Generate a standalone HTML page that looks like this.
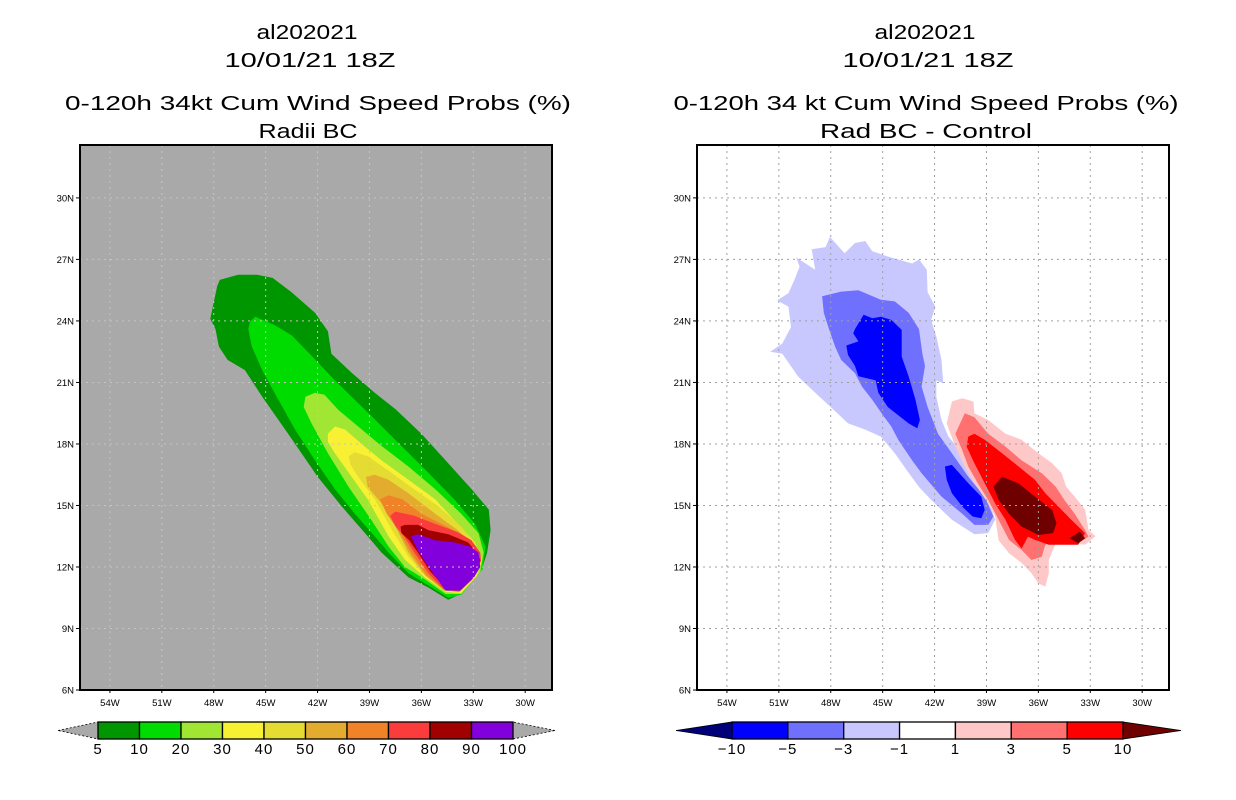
<!DOCTYPE html>
<html><head><meta charset="utf-8">
<style>
html,body{margin:0;padding:0;background:#fff;width:1236px;height:800px;overflow:hidden}
svg{display:block}
text{font-family:"Liberation Sans",sans-serif;fill:#000}
.title{font-size:20px}
.tick{font-size:9.5px}
.cbl{font-size:15px;letter-spacing:1px}
</style></head>
<body>
<svg id="fig" width="1236" height="800" viewBox="0 0 1236 800" xmlns="http://www.w3.org/2000/svg">
<g>
<text class="title" x="307" y="39" text-anchor="middle" textLength="101" lengthAdjust="spacingAndGlyphs">al202021</text>
<text class="title" x="310" y="67" text-anchor="middle" textLength="171" lengthAdjust="spacingAndGlyphs">10/01/21 18Z</text>
<text class="title" x="318" y="110" text-anchor="middle" textLength="506" lengthAdjust="spacingAndGlyphs">0-120h 34kt Cum Wind Speed Probs (%)</text>
<text class="title" x="308" y="138" text-anchor="middle" textLength="99" lengthAdjust="spacingAndGlyphs">Radii BC</text>
</g>
<g>
<text class="title" x="925" y="39" text-anchor="middle" textLength="101" lengthAdjust="spacingAndGlyphs">al202021</text>
<text class="title" x="928" y="67" text-anchor="middle" textLength="171" lengthAdjust="spacingAndGlyphs">10/01/21 18Z</text>
<text class="title" x="926" y="110" text-anchor="middle" textLength="505" lengthAdjust="spacingAndGlyphs">0-120h 34 kt Cum Wind Speed Probs (%)</text>
<text class="title" x="926" y="138" text-anchor="middle" textLength="212" lengthAdjust="spacingAndGlyphs">Rad BC - Control</text>
</g>
<g id="left"></g>
<g id="right"></g>
<g id="cbars"></g>
</svg>
<script>
// ---- axis data ----
const lonTicks = [54,51,48,45,42,39,36,33,30];
const latTicks = [6,9,12,15,18,21,24,27,30];
const latLabels = ["6N","9N","12N","15N","18N","21N","24N","27N","30N"];
// ---- left panel contour levels (%), polygons as [lonW, lat] ----
const probColors = ["#009600","#00dc00","#a0e632","#f8f032","#e4dc32","#e4ac2e","#f08228","#fa3c3c","#a00000","#8200dc"];
const probLevels = ["5","10","20","30","40","50","60","70","80","90","100"];
const p5 = [[47.65,26.0],[46.6,26.25],[45.5,26.25],[44.6,26.1],[43.5,25.4],[42.15,24.4],[41.4,23.5],[41.2,22.4],[40.0,21.45],[38.7,20.5],[37.5,19.7],[36.0,18.5],[34.45,17.06],[33.1,15.8],[32.1,14.8],[32.0,13.8],[32.2,12.7],[32.5,11.9],[33.7,10.7],[34.45,10.4],[35.6,11.0],[36.75,11.5],[38.3,12.7],[39.1,13.5],[40.6,14.95],[42.0,16.4],[43.7,18.5],[45.2,20.3],[46.2,21.6],[47.2,22.1],[47.7,22.75],[47.9,23.6],[48.2,24.1],[48.0,24.9],[47.8,25.7]];
const p10 = [[45.9,23.97],[45.6,24.2],[44.5,23.8],[43.5,23.3],[42.35,22.3],[41.0,21.1],[39.85,20.15],[38.7,19.2],[37.15,17.9],[35.6,16.6],[34.1,15.3],[32.9,14.1],[32.3,13.0],[32.45,11.9],[33.7,10.65],[34.45,10.5],[35.6,11.1],[36.75,11.7],[37.9,12.7],[38.7,13.5],[39.85,14.6],[41.0,15.8],[42.15,17.2],[43.3,18.7],[44.3,20.2],[45.2,21.6],[45.8,22.75],[46.0,23.6]];
const p20 = [[42.7,20.3],[42.15,20.5],[41.6,20.4],[40.8,19.66],[39.65,18.85],[38.3,17.9],[36.75,16.9],[35.2,15.8],[33.7,14.6],[32.7,13.65],[32.4,12.7],[32.6,11.75],[33.7,10.68],[34.6,10.68],[35.8,11.4],[36.95,12.0],[37.9,13.0],[38.9,14.3],[40.2,15.9],[41.4,17.55],[42.35,19.0],[42.8,19.8]];
const p30 = [[41.4,18.5],[41.0,18.85],[40.4,18.7],[39.45,18.0],[38.3,17.2],[36.75,16.25],[35.2,15.3],[33.9,14.1],[32.9,13.2],[32.5,12.35],[32.8,11.55],[33.7,10.72],[34.6,10.78],[35.8,11.5],[36.95,12.35],[37.9,13.5],[39.1,15.3],[40.2,16.6],[41.0,17.55],[41.4,18.1]];
const p40 = [[40.2,17.4],[39.85,17.6],[39.1,17.4],[37.9,16.7],[36.6,15.9],[35.0,14.95],[33.7,13.97],[32.8,13.0],[32.55,12.3],[32.95,11.45],[33.8,10.76],[34.7,10.84],[35.8,11.6],[36.75,12.5],[37.7,13.8],[38.7,15.3],[39.65,16.4],[40.1,17.0]];
const p50 = [[39.2,16.4],[38.7,16.5],[37.9,16.25],[36.75,15.6],[35.2,14.6],[33.9,13.8],[32.9,13.0],[32.6,12.3],[33.05,11.42],[33.85,10.78],[34.7,10.86],[35.8,11.6],[36.75,12.7],[37.5,13.97],[38.3,15.1],[39.1,15.9]];
const p60 = [[38.4,15.3],[37.9,15.5],[37.1,15.3],[36.0,14.6],[34.6,14.0],[33.5,13.5],[32.8,12.9],[32.6,12.3],[33.0,11.44],[33.8,10.8],[34.7,10.88],[35.7,11.6],[36.6,12.7],[37.35,13.8],[38.0,14.6]];
const p70 = [[37.8,14.5],[37.5,14.7],[36.4,14.5],[35.2,14.1],[33.9,13.7],[33.1,13.3],[32.6,12.7],[32.55,12.3],[33.0,11.45],[33.8,10.82],[34.7,10.9],[35.6,11.7],[36.4,12.7],[37.0,13.5],[37.5,14.0]];
const p80 = [[37.2,13.97],[36.95,14.05],[36.2,14.05],[35.6,13.8],[34.45,13.6],[33.3,13.2],[32.7,12.6],[32.6,12.3],[33.05,11.48],[33.8,10.9],[34.6,10.96],[35.5,11.8],[36.2,12.7],[36.7,13.3],[37.15,13.65]];
const p90 = [[36.6,13.5],[36.2,13.6],[35.2,13.3],[34.1,13.2],[33.2,13.0],[32.7,12.7],[32.6,12.0],[32.95,11.5],[33.75,10.85],[34.6,10.85],[35.5,11.9],[36.2,12.8]];
// ---- right panel difference contours ----
const diffColors = ["#000078","#0000ff","#7070ff","#c8c8ff","#ffffff","#ffc8c8","#ff7070","#ff0000","#6e0000"];
const diffLevels = ["-10","-5","-3","-1","1","3","5","10"];
const dm1 = [[48.05,28.1],[47.2,27.3],[46.6,27.8],[46.0,27.9],[45.6,27.4],[44.7,27.14],[43.3,26.8],[42.9,27.0],[42.45,26.5],[42.4,25.4],[41.95,24.7],[42.2,24.05],[41.9,23.24],[41.6,22.1],[41.5,20.96],[41.9,21.1],[41.9,20.3],[41.6,19.17],[41.2,18.36],[40.05,17.2],[39.1,16.08],[38.7,14.8],[38.5,14.3],[38.9,13.65],[39.7,13.6],[41.0,14.3],[42.2,15.27],[42.9,15.9],[43.5,16.6],[44.3,17.55],[45.1,18.36],[46.0,18.7],[47.0,19.0],[47.75,19.6],[48.9,20.5],[49.9,21.3],[50.8,22.4],[51.5,22.5],[50.8,22.9],[50.3,23.7],[50.45,24.7],[51.1,25.0],[50.45,25.35],[50.1,26.0],[49.8,26.65],[50.0,27.1],[48.9,26.5],[49.1,27.5],[48.3,27.6]];
const dm3 = [[48.5,25.2],[47.4,25.43],[46.4,25.5],[45.1,25.03],[44.3,24.95],[43.5,24.4],[42.9,23.6],[42.7,22.4],[42.55,21.8],[42.75,20.8],[42.4,19.8],[41.8,18.5],[41.0,17.55],[40.05,16.4],[39.1,15.43],[38.6,14.46],[38.9,14.05],[39.7,14.05],[40.4,14.6],[41.6,15.43],[42.75,16.57],[43.3,17.2],[44.1,18.2],[44.5,18.85],[44.9,19.3],[45.6,20.15],[46.2,20.8],[46.6,21.45],[47.4,22.1],[47.75,22.75],[48.1,23.6],[48.4,24.4]];
const dm5a = [[46.6,23.6],[46.1,24.3],[45.6,24.13],[45.1,24.2],[44.5,24.05],[43.9,23.56],[43.9,22.26],[43.5,21.3],[43.1,20.15],[42.85,19.17],[43.0,18.77],[43.5,19.0],[44.7,19.8],[45.25,20.5],[45.4,21.1],[46.4,21.3],[46.6,21.8],[47.0,22.34],[47.1,22.8],[46.4,23.0],[46.7,23.4]];
const dm5b = [[41.4,16.9],[41.0,16.98],[40.05,16.08],[39.3,15.43],[39.1,14.78],[39.3,14.38],[39.8,14.46],[40.4,14.95],[41.0,15.6],[41.3,16.25]];
const dp1 = [[41.0,20.07],[40.4,20.23],[39.75,20.07],[39.7,19.5],[38.9,19.17],[37.9,18.5],[36.97,18.2],[36.0,17.55],[35.2,17.06],[34.65,16.57],[34.4,15.92],[33.9,15.43],[33.3,14.8],[33.1,13.8],[32.7,13.5],[33.3,13.08],[33.9,13.16],[35.0,13.16],[35.4,12.34],[35.4,11.7],[35.6,11.04],[36.0,11.2],[36.4,11.7],[36.97,12.2],[37.7,12.67],[38.3,13.3],[38.5,14.46],[38.9,15.1],[39.7,16.08],[40.25,16.9],[40.8,17.87],[41.3,19.0]];
const dp3 = [[40.8,18.5],[40.25,19.5],[39.7,19.3],[38.9,18.5],[37.9,17.87],[36.97,17.2],[35.8,16.57],[35.0,15.92],[34.5,15.27],[33.9,14.6],[33.3,13.8],[33.1,13.48],[33.7,13.16],[35.0,13.32],[35.6,13.08],[35.8,12.5],[36.4,12.34],[36.97,12.83],[37.7,13.32],[38.3,14.3],[38.9,15.27],[39.5,16.08],[40.05,16.9],[40.4,17.7]];
const dp5 = [[40.05,18.36],[39.7,18.5],[39.1,18.2],[38.1,17.55],[37.15,16.9],[36.2,16.25],[35.6,15.6],[34.85,14.95],[34.1,14.3],[33.3,13.65],[33.7,13.08],[35.4,13.08],[36.2,13.32],[36.6,13.48],[36.97,12.9],[37.35,13.32],[37.9,14.3],[38.5,15.1],[39.1,16.08],[39.7,17.06],[40.15,17.87]];
const dp10a = [[38.6,15.92],[38.1,16.4],[37.15,16.08],[36.2,15.43],[35.2,14.78],[34.95,14.13],[35.15,13.65],[36.0,13.56],[36.97,13.97],[37.7,14.6],[38.3,15.27]];
const dp10b = [[34.2,13.4],[33.6,13.73],[33.3,13.4],[33.7,13.16]];

const NS="http://www.w3.org/2000/svg";
function mk(tag,attrs,parent){const e=document.createElementNS(NS,tag);for(const k in attrs)e.setAttribute(k,attrs[k]);parent.appendChild(e);return e;}
const PW=472,PH=545,TOP=145;
const LAT0=6,LAT1=32.58,LONL=55.73,LONR=28.45;
function makeAxes(x0){
  return {x:lon=>x0+(LONL-lon)/(LONL-LONR)*PW, y:lat=>TOP+PH-(lat-LAT0)/(LAT1-LAT0)*PH};
}
function poly(g,ax,pts,color,name){
  const d=pts.map(p=>ax.x(p[0]).toFixed(1)+","+ax.y(p[1]).toFixed(1)).join(" ");
  const e=mk("polygon",{points:d,fill:color},g);
  
  
}
function panel(id,x0,bg,polys,gridColor){
  const g=document.getElementById(id);
  const ax=makeAxes(x0);
  const bgR=mk("rect",{x:x0,y:TOP,width:PW,height:PH,fill:bg},g);
  
  
  const cg=mk("g",{},g);
  
  
  polys.forEach(p=>poly(cg,ax,p[0],p[1],p[2]));
  const gg=mk("g",{stroke:gridColor,"stroke-width":1,"stroke-dasharray":"2,4"},g);
  
  
  lonTicks.forEach(l=>mk("line",{x1:ax.x(l),x2:ax.x(l),y1:TOP,y2:TOP+PH},gg));
  latTicks.slice(1).forEach(l=>mk("line",{x1:x0,x2:x0+PW,y1:ax.y(l),y2:ax.y(l)},gg));
  const fr=mk("rect",{x:x0,y:TOP,width:PW,height:PH,fill:"none",stroke:"#000","stroke-width":2},g);
  
  
  const xa=mk("g",{},g);
  
  
  lonTicks.forEach(l=>{
    mk("line",{x1:ax.x(l),x2:ax.x(l),y1:TOP+PH,y2:TOP+PH+3,stroke:"#000"},xa);
    const t=mk("text",{x:ax.x(l),y:TOP+PH+16,"text-anchor":"middle",class:"tick"},xa);
    t.textContent=l+"W";
    
    
  });
  const ya=mk("g",{},g);
  
  
  latTicks.forEach((l,i)=>{
    mk("line",{x1:x0-4,x2:x0,y1:ax.y(l),y2:ax.y(l),stroke:"#000"},ya);
    const t=mk("text",{x:x0-6,y:ax.y(l)+3.5,"text-anchor":"end",class:"tick"},ya);
    t.textContent=latLabels[i];
    
    
  });
}
panel("left",80,"#a9a9a9",[
 [p5,probColors[0],"prob-5"],[p10,probColors[1],"prob-10"],[p20,probColors[2],"prob-20"],
 [p30,probColors[3],"prob-30"],[p40,probColors[4],"prob-40"],[p50,probColors[5],"prob-50"],
 [p60,probColors[6],"prob-60"],[p70,probColors[7],"prob-70"],[p80,probColors[8],"prob-80"],
 [p90,probColors[9],"prob-90"]],"#c4c4c4");
panel("right",697,"#ffffff",[
 [dm1,diffColors[3],"diff-minus-1"],[dm3,diffColors[2],"diff-minus-3"],
 [dm5a,diffColors[1],"diff-minus-5-north"],[dm5b,diffColors[1],"diff-minus-5-south"],
 [dp1,diffColors[5],"diff-plus-1"],[dp3,diffColors[6],"diff-plus-3"],[dp5,diffColors[7],"diff-plus-5"],
 [dp10a,diffColors[8],"diff-plus-10"],[dp10b,diffColors[8],"diff-plus-10-small"]],"#a0a0a0");

// colorbars
function colorbar(x0,x1,tipL,tipR,colors,labels,triL,triR,name){
  const g=mk("g",{},document.getElementById("cbars"));
  
  
  const y0=722,y1=739,ym=730.5,n=colors.length,w=(x1-x0)/n;
  const a=mk("polygon",{points:`${tipL},${ym} ${x0},${y0} ${x0},${y1}`,fill:triL,stroke:"#000","stroke-width":0.8,"stroke-dasharray":triL==="#a9a9a9"?"2,2":"none"},g);
  
  
  const b=mk("polygon",{points:`${tipR},${ym} ${x1},${y0} ${x1},${y1}`,fill:triR,stroke:"#000","stroke-width":0.8,"stroke-dasharray":triR==="#a9a9a9"?"2,2":"none"},g);
  
  
  colors.forEach((c,i)=>{
    const r=mk("rect",{x:x0+i*w,y:y0,width:w,height:y1-y0,fill:c,stroke:"#000","stroke-width":1.3},g);
    
    
  });
  labels.forEach((l,i)=>{
    const t=mk("text",{x:x0+i*w,y:754,"text-anchor":"middle",class:"cbl"},g);
    t.textContent=l.replace("-","\u2212");
    
    
  });
}
colorbar(98,513,58,555,probColors,probLevels,"#a9a9a9","#a9a9a9","prob-colorbar");
colorbar(732,1123,676,1181,diffColors.slice(1,8),diffLevels,diffColors[0],diffColors[8],"diff-colorbar");
</script>
</body></html>
